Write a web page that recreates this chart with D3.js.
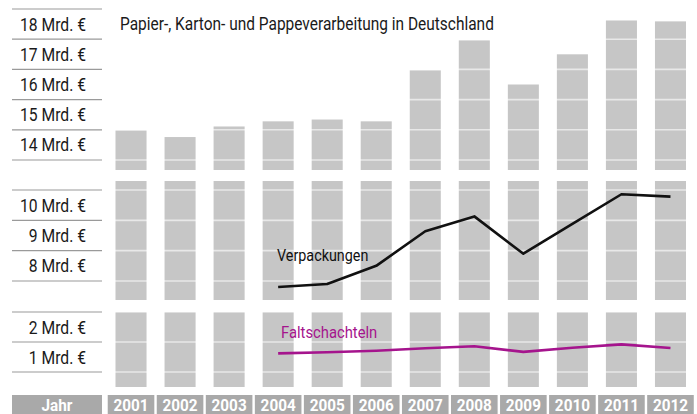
<!DOCTYPE html>
<html>
<head>
<meta charset="utf-8">
<script src="https://cdn.jsdelivr.net/npm/d3@7"></script>
<style>
  body { margin: 0; background: #fff; }
  svg { display: block; font-family: Roboto, "Noto Sans", sans-serif; }
</style>
</head>
<body>
<svg width="697" height="414"></svg>
<script>
// Jahre und Werte (Mrd. Euro)
const years = ['2001', '2002', '2003', '2004', '2005', '2006', '2007', '2008', '2009', '2010', '2011', '2012'];
const gesamt = [14.48, 14.26, 14.61, 14.78, 14.84, 14.78, 16.47, 17.46, 16.0, 17.0, 18.12, 18.09];
const lineYears = ['2004', '2005', '2006', '2007', '2008', '2009', '2010', '2011', '2012'];
const verpackungen = [7.30, 7.40, 8.0, 9.14, 9.63, 8.40, 9.38, 10.36, 10.28];
const faltschachteln = [1.12, 1.16, 1.21, 1.29, 1.36, 1.17, 1.31, 1.42, 1.30];
const topTicks = [14, 15, 16, 17, 18];
const midTicks = [8, 9, 10];
const botTicks = [1, 2];

const svg = d3.select('svg');
const barColor = '#c6c6c6';
const labelBox = '#a9a9a9';
const narrow = 0.87; // schmale Schrift nachahmen

// Text an Position setzen, horizontal gestaucht
function place(sel, px, py, sx) {
  return sel.attr('transform', 'translate(' + px + ',' + py + ') scale(' + (sx || narrow) + ',1)');
}

// x-Skala fuer die Balken
const x = d3.scaleBand().domain(years).range([106.5, 695]).paddingInner(0.367).paddingOuter(0.1835);

// drei Abschnitte der y-Achse (gebrochen)
const panels = [
  {ticks: topTicks, y: d3.scaleLinear().domain([13.5, 18.5]).range([160, 9]), top: 9, bottom: 170},
  {ticks: midTicks, y: d3.scaleLinear().domain([7.5, 10.5]).range([281, 190]), top: 181, bottom: 300},
  {ticks: botTicks, y: d3.scaleLinear().domain([0.5, 2.5]).range([372, 312]), top: 312, bottom: 387}
];

panels.forEach(function (p) {
  const g = svg.append('g');

  // Balken, oben am Abschnitt abgeschnitten
  g.selectAll('rect')
    .data(gesamt)
    .enter()
    .append('rect')
    .attr('x', (d, i) => x(years[i]))
    .attr('width', x.bandwidth())
    .attr('y', d => Math.max(p.top, p.y(d)))
    .attr('height', d => p.bottom - Math.max(p.top, p.y(d)))
    .style('fill', barColor);

  // Rasterlinien zwischen den Beschriftungen
  const lines = d3.range(p.ticks[0] - 0.5, p.ticks[p.ticks.length - 1] + 1, 1);
  g.selectAll('line.grid')
    .data(lines)
    .enter()
    .append('line')
    .attr('x1', 106).attr('x2', 697)
    .attr('y1', d => p.y(d)).attr('y2', d => p.y(d))
    .style('stroke', '#fff')
    .style('stroke-opacity', 0.6)
    .style('stroke-width', 1.6);

  g.selectAll('line.left')
    .data(lines)
    .enter()
    .append('line')
    .attr('x1', 12).attr('x2', 102)
    .attr('y1', d => p.y(d)).attr('y2', d => p.y(d))
    .style('stroke', '#9a9a9a')
    .style('stroke-width', 1.2);

  g.selectAll('text')
    .data(p.ticks)
    .enter()
    .append('text')
    .each(function (d) { place(d3.select(this), 86, p.y(d) + 6.5); })
    .attr('text-anchor', 'end')
    .style('font-size', '18px')
    .style('fill', '#1a1a1a')
    .text(d => d + ' Mrd. €');
});

// Linien
const xc = d => x(d) + x.bandwidth() / 2;

const lineMid = d3.line().x(d => xc(d[0])).y(d => panels[1].y(d[1]));
svg.append('path')
  .datum(lineYears.map((d, i) => [d, verpackungen[i]]))
  .attr('d', lineMid)
  .style('fill', 'none')
  .style('stroke', '#111')
  .style('stroke-width', 2.6)
  .style('stroke-linejoin', 'round');

const lineBot = d3.line().x(d => xc(d[0])).y(d => panels[2].y(d[1]));
svg.append('path')
  .datum(lineYears.map((d, i) => [d, faltschachteln[i]]))
  .attr('d', lineBot)
  .style('fill', 'none')
  .style('stroke', '#a5148d')
  .style('stroke-width', 2.6)
  .style('stroke-linejoin', 'round');

// Beschriftungen
place(svg.append('text'), 120, 29.5, 0.86)
  .style('font-size', '18px')
  .style('fill', '#1a1a1a')
  .text('Papier-, Karton- und Pappeverarbeitung in Deutschland');

place(svg.append('text'), 277, 261)
  .style('font-size', '16.5px')
  .style('fill', '#111')
  .text('Verpackungen');

place(svg.append('text'), 281, 338)
  .style('font-size', '17px')
  .style('fill', '#a5148d')
  .text('Faltschachteln');

// x-Achse mit grauen Kaestchen
svg.append('rect')
  .attr('x', 12).attr('y', 395).attr('width', 90).attr('height', 19)
  .style('fill', labelBox);
place(svg.append('text'), 57, 410.5, 0.9)
  .attr('text-anchor', 'middle')
  .style('font-size', '17px')
  .style('font-weight', 'bold')
  .style('fill', '#fff')
  .text('Jahr');

const xl = svg.append('g');
xl.selectAll('rect')
  .data(years)
  .enter()
  .append('rect')
  .attr('x', d => xc(d) - 23.3)
  .attr('y', 395)
  .attr('width', 46.6)
  .attr('height', 19)
  .style('fill', labelBox);
xl.selectAll('text')
  .data(years)
  .enter()
  .append('text')
  .each(function (d) { place(d3.select(this), xc(d), 410.5, 0.9); })
  .attr('text-anchor', 'middle')
  .style('font-size', '17px')
  .style('font-weight', 'bold')
  .style('fill', '#fff')
  .text(d => d);
</script>
</body>
</html>
